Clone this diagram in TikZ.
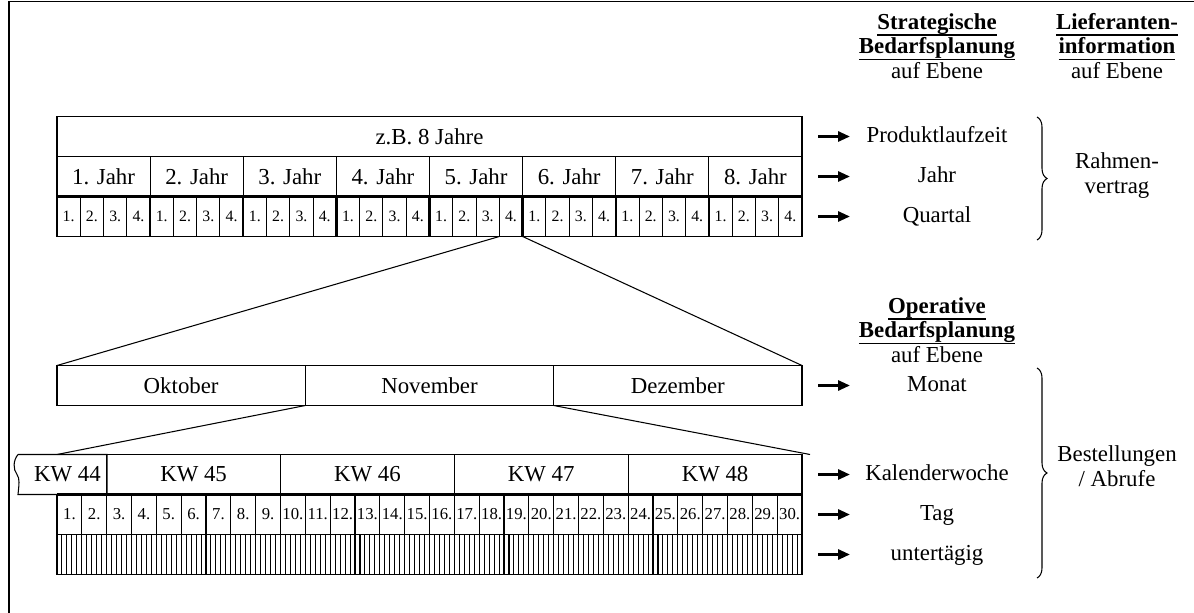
\documentclass[tikz,border=0pt]{standalone}
\usepackage{fontspec}
\setmainfont{Liberation Serif}
\usepackage{tikz}
\usetikzlibrary{positioning,arrows.meta,calc,decorations.pathreplacing}
\newcommand{\ulhead}[1]{\setbox0\hbox{\textbf{#1}}%
  \leavevmode\rlap{\raisebox{-3.6pt}[0pt][0pt]{\rule{\wd0}{0.9pt}}}\box0}
\tikzset{
  cell-box/.style={draw,line width=0.6pt,outer sep=0pt,inner sep=0pt,
    anchor=north west,minimum height=8mm,font=\fontsize{13}{15.5}\selectfont},
  cell-small/.style={cell-box,font=\fontsize{9}{10}\selectfont},
  cell-day/.style={cell-box,font=\fontsize{9.5}{10}\selectfont},
  level-text/.style={font=\fontsize{13}{15.5}\selectfont,inner sep=0pt,
    text height=9pt,text depth=2.5pt},
  head-text/.style={font=\fontsize{13}{14}\selectfont,align=center,inner sep=0pt},
  brace-text/.style={font=\fontsize{13}{14.2}\selectfont,align=center,inner sep=0pt},
  zoom-line/.style={line width=0.6pt},
  thick-line/.style={line width=1.3pt},
  sub-line/.style={line width=0.6pt},
  level-arrow/.style={-{Triangle[length=2.4mm,width=2mm]},line width=1.6pt},
  range-brace/.style={decorate,decoration={brace,amplitude=2mm},line width=0.6pt},
}

\begin{document}
\begin{tikzpicture}[x=0.2mm,y=-0.2mm]
  \useasboundingbox (0,0) rectangle (1194,613);
  \draw[line width=0.6pt] (9,613) -- (9,1.5) -- (1194,1.5);

  % strategische Ebene
  \node[cell-box,minimum width=149mm] (laufzeit) at (57,116.5) {z.B. 8 Jahre};
  \foreach \j in {1,...,8}{
    \node[cell-box,minimum width=18.625mm] (j-\j) at ({57+(\j-1)*93.125},156.5) {\j. Jahr};
    \foreach \q in {1,...,4}
      \node[cell-small,minimum width=4.65625mm] (q-\j-\q)
        at ({57+(\j-1)*93.125+(\q-1)*23.28125},196.5) {\q.};
    \draw[thick-line] (q-\j-1.north west) -- (q-\j-1.south west);
  }
  \draw[thick-line] (j-1.south west) -- (j-8.south east);

  % operative Ebene
  \node[cell-box,minimum width=49.6667mm] (okt) at (57,365.5) {Oktober};
  \node[cell-box,minimum width=49.6667mm,right=0mm of okt] (nov) {November};
  \node[cell-box,minimum width=49.6667mm,right=0mm of nov] (dez) {Dezember};

  \foreach \d in {1,...,30}
    \node[cell-day,minimum width=4.96667mm] (d-\d) at ({57+(\d-1)*24.8333},494.5) {\d.};
  \foreach \k/\first in {45/3,46/10,47/17,48/24}
    \node[cell-box,anchor=south west,minimum width=34.7667mm] (kw\k) at (d-\first.north west) {KW \k};
  \node[cell-box,draw=none,minimum width=15.8mm] (kw44) at (28,454.5) {KW 44};
  \draw[line width=0.6pt] ($(kw44.north west)+(-10,0)$) -- (kw44.north east)
    -- (kw44.south east) -- ($(kw44.south west)+(-10,0)$)
    .. controls ($(kw44.south west)+(-9,-10)$) and ($(kw44.south west)+(-8,-16)$) .. ($(kw44.south west)+(-11,-20)$)
    .. controls ($(kw44.south west)+(-15,-25)$) and ($(kw44.north west)+(-15,6)$) .. ($(kw44.north west)+(-10,0)$);
  \draw[thick-line] (d-1.north west) -- (d-30.north east);

  \node[cell-box,minimum width=149mm] (sub) at (57,534.5) {};
  \foreach \s in {1,...,149}
    \draw[sub-line] ($(sub.north west)+(\s*4.96667,0)$) -- ($(sub.south west)+(\s*4.96667,0)$);

  % Zoom
  \draw[zoom-line] (q-5-4.south west) -- (okt.north west);
  \draw[zoom-line] (q-5-4.south east) -- (dez.north east);
  \draw[zoom-line] (okt.south east) -- (d-1.north west |- kw45.north);
  \draw[zoom-line] (nov.south east) -- ($(kw48.north east)+(8,0)$);

  % Ebenen
  \coordinate (lvlx) at (937,0);
  \foreach \row/\txt in {laufzeit/Produktlaufzeit,j-8/Jahr,q-8-4/Quartal,dez/Monat,
      kw48/Kalenderwoche,d-30/Tag,sub/untertägig}{
    \node[level-text] (lv-\row) at (\row.east -| lvlx) {\txt};
    \draw[level-arrow] ([xshift=3.2mm]\row.east) -- ([xshift=9.6mm]\row.east);
  }

  \node[head-text] (strat) at (937,46) {\ulhead{Strategische}\\
    \ulhead{Bedarfsplanung}\\auf Ebene};
  \node[head-text] (liefer) at (1117,46) {\ulhead{Lieferanten-}\\
    \ulhead{information}\\auf Ebene};
  \node[head-text] (oper) at (937,330) {\ulhead{Operative}\\
    \ulhead{Bedarfsplanung}\\auf Ebene};

  \draw[range-brace] (1037,117) -- (1037,240);
  \draw[range-brace] (1037,368) -- (1037,578);
  \node[brace-text] (rahmen) at (1117,176) {Rahmen-\\vertrag};
  \node[brace-text] (bestell) at (1117,466) {Bestellungen\\/ Abrufe};
\end{tikzpicture}
\end{document}
